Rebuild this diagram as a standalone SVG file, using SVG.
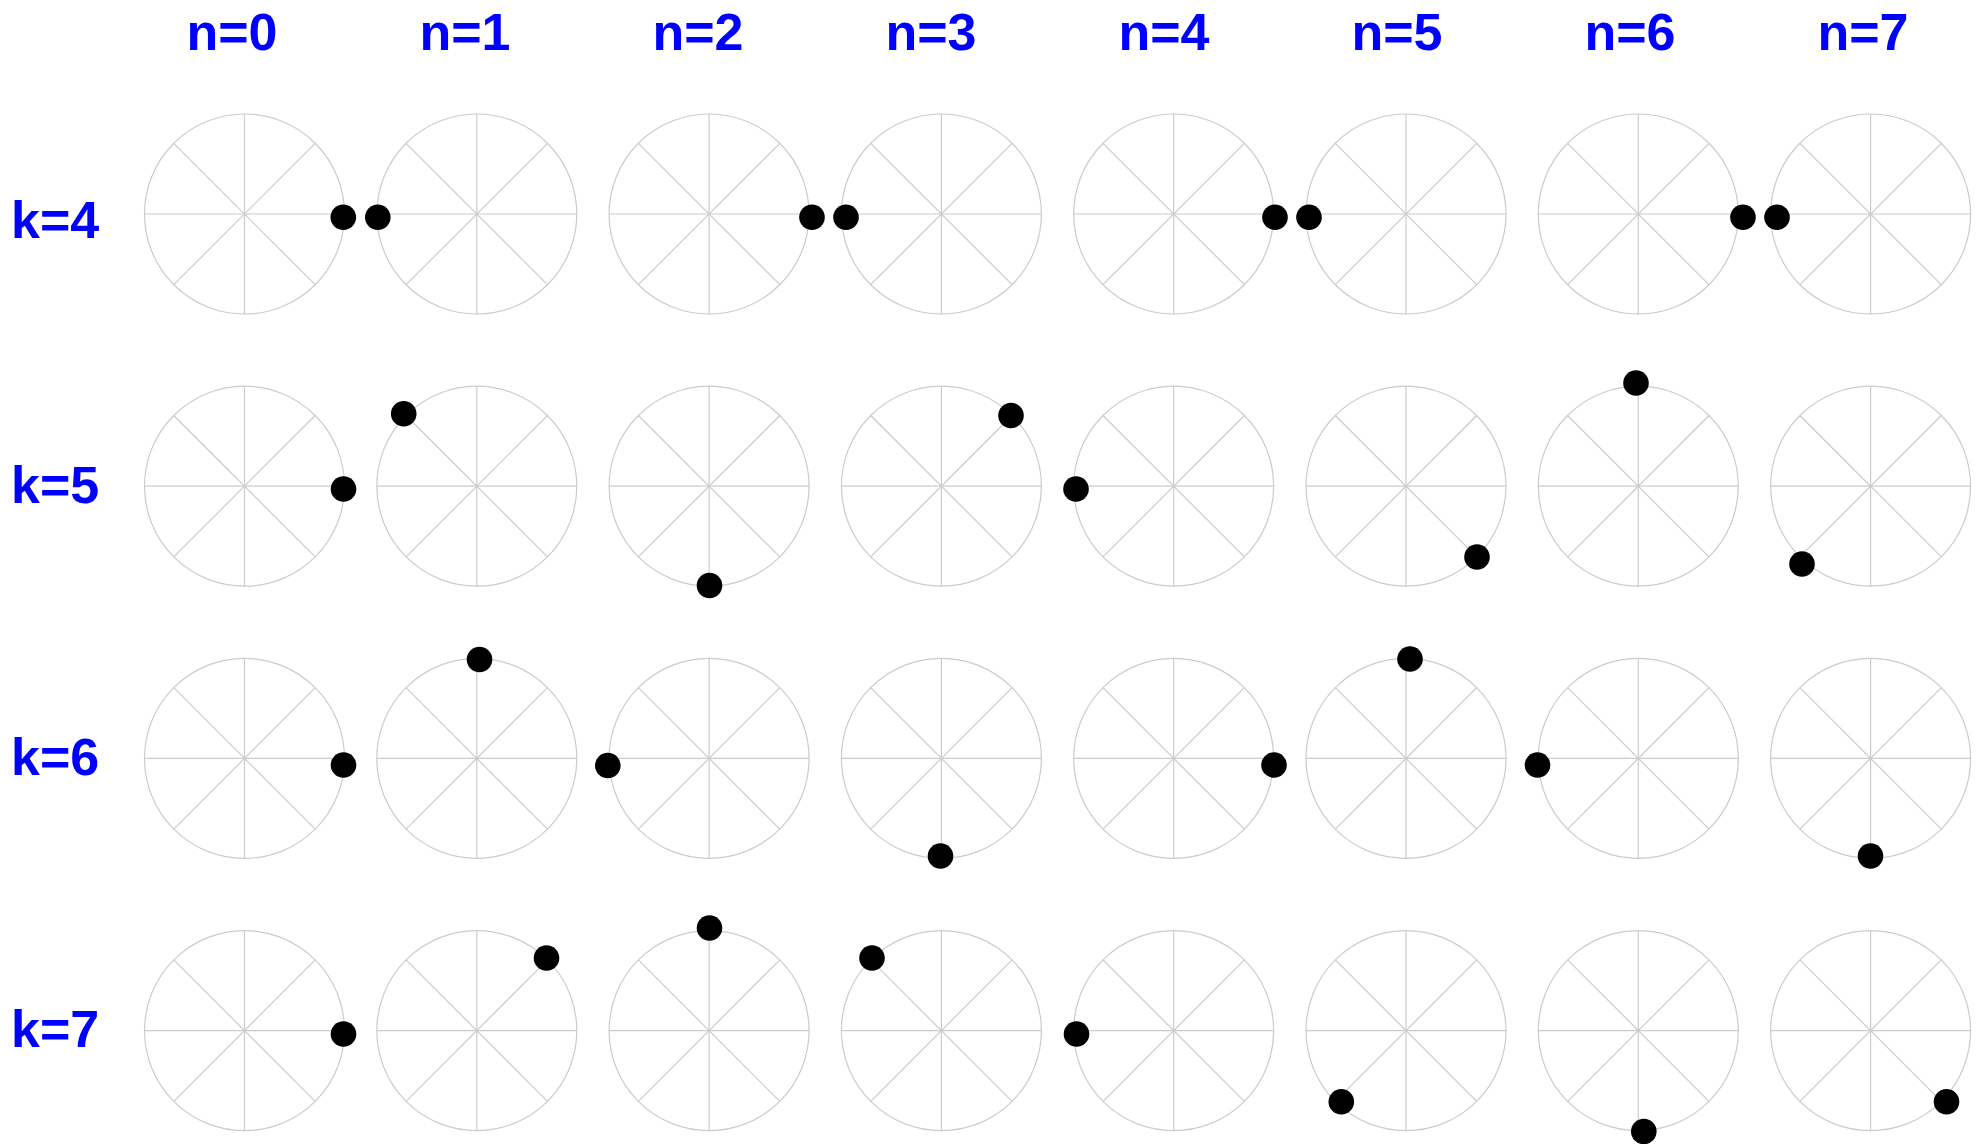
<svg xmlns="http://www.w3.org/2000/svg" xmlns:xlink="http://www.w3.org/1999/xlink" width="1979" height="1144" viewBox="0 0 1979 1144">
<style>
.lbl{font-family:"Liberation Sans",Arial,sans-serif;font-weight:bold;font-size:52px;fill:#0000ff}
.col{text-anchor:middle}
.wheel{fill:none;stroke:#cccccc;stroke-width:1.2}
.dot{fill:#000000}
</style>
<defs>
<g id="wheel" class="wheel">
<circle cx="0" cy="0" r="100"/>
<line x1="-100" y1="0" x2="100" y2="0"/>
<line x1="0" y1="-100" x2="0" y2="100"/>
<line x1="-70.7" y1="-70.7" x2="70.7" y2="70.7"/>
<line x1="-70.7" y1="70.7" x2="70.7" y2="-70.7"/>
</g>
</defs>
<rect width="1979" height="1144" fill="#ffffff"/>
<g id="column-labels">
<text class="lbl col" x="232" y="50">n=0</text>
<text class="lbl col" x="465" y="50">n=1</text>
<text class="lbl col" x="698" y="50">n=2</text>
<text class="lbl col" x="931" y="50">n=3</text>
<text class="lbl col" x="1164" y="50">n=4</text>
<text class="lbl col" x="1397" y="50">n=5</text>
<text class="lbl col" x="1630" y="50">n=6</text>
<text class="lbl col" x="1863" y="50">n=7</text>
</g>
<g id="row-labels">
<text class="lbl" x="11" y="238">k=4</text>
<text class="lbl" x="11" y="503">k=5</text>
<text class="lbl" x="11" y="775">k=6</text>
<text class="lbl" x="11" y="1047">k=7</text>
</g>
<g id="row-k4">
<g id="k4-n0"><use xlink:href="#wheel" x="244.5" y="214"/><circle class="dot" cx="343.3" cy="217.2" r="12.8"/></g>
<g id="k4-n1"><use xlink:href="#wheel" x="476.8" y="214"/><circle class="dot" cx="377.8" cy="217.2" r="12.8"/></g>
<g id="k4-n2"><use xlink:href="#wheel" x="709.1" y="214"/><circle class="dot" cx="812" cy="217.2" r="12.8"/></g>
<g id="k4-n3"><use xlink:href="#wheel" x="941.4" y="214"/><circle class="dot" cx="846" cy="217.2" r="12.8"/></g>
<g id="k4-n4"><use xlink:href="#wheel" x="1173.7" y="214"/><circle class="dot" cx="1275" cy="217.2" r="12.8"/></g>
<g id="k4-n5"><use xlink:href="#wheel" x="1406" y="214"/><circle class="dot" cx="1309" cy="217.2" r="12.8"/></g>
<g id="k4-n6"><use xlink:href="#wheel" x="1638.3" y="214"/><circle class="dot" cx="1743" cy="217.2" r="12.8"/></g>
<g id="k4-n7"><use xlink:href="#wheel" x="1870.6" y="214"/><circle class="dot" cx="1777" cy="217.2" r="12.8"/></g>
</g>
<g id="row-k5">
<g id="k5-n0"><use xlink:href="#wheel" x="244.5" y="486.2"/><circle class="dot" cx="343.5" cy="489" r="12.8"/></g>
<g id="k5-n1"><use xlink:href="#wheel" x="476.8" y="486.2"/><circle class="dot" cx="403.7" cy="413.8" r="12.8"/></g>
<g id="k5-n2"><use xlink:href="#wheel" x="709.1" y="486.2"/><circle class="dot" cx="709.5" cy="585.5" r="12.8"/></g>
<g id="k5-n3"><use xlink:href="#wheel" x="941.4" y="486.2"/><circle class="dot" cx="1011" cy="415.5" r="12.8"/></g>
<g id="k5-n4"><use xlink:href="#wheel" x="1173.7" y="486.2"/><circle class="dot" cx="1076" cy="489" r="12.8"/></g>
<g id="k5-n5"><use xlink:href="#wheel" x="1406" y="486.2"/><circle class="dot" cx="1477" cy="557" r="12.8"/></g>
<g id="k5-n6"><use xlink:href="#wheel" x="1638.3" y="486.2"/><circle class="dot" cx="1636" cy="383" r="12.8"/></g>
<g id="k5-n7"><use xlink:href="#wheel" x="1870.6" y="486.2"/><circle class="dot" cx="1802" cy="564" r="12.8"/></g>
</g>
<g id="row-k6">
<g id="k6-n0"><use xlink:href="#wheel" x="244.5" y="758.4"/><circle class="dot" cx="343.5" cy="765" r="12.8"/></g>
<g id="k6-n1"><use xlink:href="#wheel" x="476.8" y="758.4"/><circle class="dot" cx="479.5" cy="659.5" r="12.8"/></g>
<g id="k6-n2"><use xlink:href="#wheel" x="709.1" y="758.4"/><circle class="dot" cx="607.8" cy="765.5" r="12.8"/></g>
<g id="k6-n3"><use xlink:href="#wheel" x="941.4" y="758.4"/><circle class="dot" cx="940.5" cy="856" r="12.8"/></g>
<g id="k6-n4"><use xlink:href="#wheel" x="1173.7" y="758.4"/><circle class="dot" cx="1274" cy="765" r="12.8"/></g>
<g id="k6-n5"><use xlink:href="#wheel" x="1406" y="758.4"/><circle class="dot" cx="1410" cy="659" r="12.8"/></g>
<g id="k6-n6"><use xlink:href="#wheel" x="1638.3" y="758.4"/><circle class="dot" cx="1537.5" cy="765" r="12.8"/></g>
<g id="k6-n7"><use xlink:href="#wheel" x="1870.6" y="758.4"/><circle class="dot" cx="1870.5" cy="856" r="12.8"/></g>
</g>
<g id="row-k7">
<g id="k7-n0"><use xlink:href="#wheel" x="244.5" y="1030.6"/><circle class="dot" cx="343.5" cy="1034" r="12.8"/></g>
<g id="k7-n1"><use xlink:href="#wheel" x="476.8" y="1030.6"/><circle class="dot" cx="546.5" cy="958" r="12.8"/></g>
<g id="k7-n2"><use xlink:href="#wheel" x="709.1" y="1030.6"/><circle class="dot" cx="709.5" cy="928" r="12.8"/></g>
<g id="k7-n3"><use xlink:href="#wheel" x="941.4" y="1030.6"/><circle class="dot" cx="872" cy="958" r="12.8"/></g>
<g id="k7-n4"><use xlink:href="#wheel" x="1173.7" y="1030.6"/><circle class="dot" cx="1076.5" cy="1034" r="12.8"/></g>
<g id="k7-n5"><use xlink:href="#wheel" x="1406" y="1030.6"/><circle class="dot" cx="1341.3" cy="1101.8" r="12.8"/></g>
<g id="k7-n6"><use xlink:href="#wheel" x="1638.3" y="1030.6"/><circle class="dot" cx="1643.8" cy="1131.5" r="12.8"/></g>
<g id="k7-n7"><use xlink:href="#wheel" x="1870.6" y="1030.6"/><circle class="dot" cx="1946.5" cy="1101.8" r="12.8"/></g>
</g>
<g id="connectors"/>
</svg>
